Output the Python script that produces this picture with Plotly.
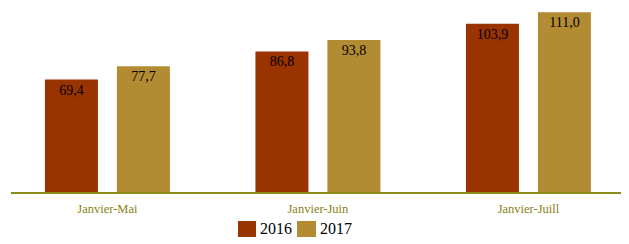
import plotly.graph_objects as go

categories = ["Janvier-Mai", "Janvier-Juin", "Janvier-Juill"]
values_2016 = [69.4, 86.8, 103.9]
values_2017 = [77.7, 93.8, 111.0]
series_names = ["2016", "2017"]

col_2016 = "#993300"
col_2017 = "#B38B33"
font_family = "Liberation Serif"

fig = go.Figure()
for name, vals, col in [(series_names[0], values_2016, col_2016), (series_names[1], values_2017, col_2017)]:
    fig.add_trace(go.Bar(
        name=name, x=categories, y=vals,
        marker=dict(color=col, line=dict(width=0)),
        texttemplate="%{y:.1f}", textposition="inside", insidetextanchor="end",
        textfont=dict(family=font_family, size=14, color="#000000"),
        textangle=0,
    ))

# custom legend (larger swatches as in the reference)
legend_items = [
    (series_names[0], col_2016, 0.3703, 0.3997, 0.403),
    (series_names[1], col_2017, 0.4666, 0.4976, 0.5008),
]
for name, col, x0, x1, xt in legend_items:
    fig.add_shape(type="rect", xref="paper", yref="paper", x0=x0, x1=x1, y0=-0.2446, y1=-0.1576,
                  fillcolor=col, line=dict(width=0))
    fig.add_annotation(xref="paper", yref="paper", x=xt, y=-0.201, xanchor="left", yanchor="middle",
                       text=name, showarrow=False,
                       font=dict(family=font_family, size=16, color="#000000"))

# page body has an 8px margin, so the figure is sized 8px smaller
fig.update_layout(
    width=621, height=236,
    margin=dict(l=3, r=5, t=0, b=52, autoexpand=False),
    paper_bgcolor="white", plot_bgcolor="white",
    separators=", ",
    barmode="group", bargap=0.316, bargroupgap=0.264,
    font=dict(family=font_family),
    showlegend=False,
    uniformtext=dict(minsize=8, mode="show"),
)
fig.update_xaxes(
    range=[-0.458, 2.454],
    showline=True, linecolor="#8B8B1A", linewidth=2,
    ticks="", ticklabelstandoff=4,
    tickfont=dict(family=font_family, size=12.5, color="#8A7E14"),
    showgrid=False,
)
fig.update_yaxes(range=[0, 113.6], visible=False, showgrid=False, zeroline=False)

fig.write_html("out.html")
